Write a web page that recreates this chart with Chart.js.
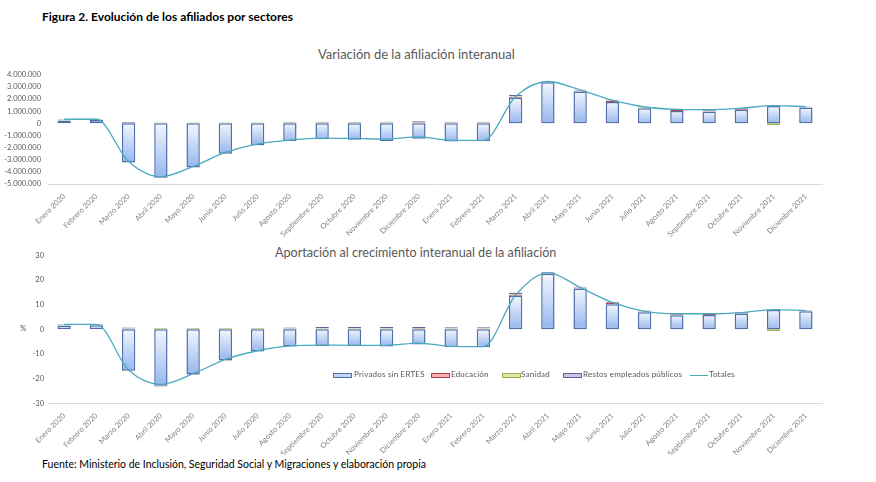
<!DOCTYPE html>
<html>
<head>
<meta charset="utf-8">
<script src="https://cdn.jsdelivr.net/npm/chart.js@4.4.1/dist/chart.umd.min.js"></script>
<style>
  body { margin:0; background:#fff; width:876px; height:482px; position:relative; overflow:hidden; font-family:Lato, sans-serif; }
  canvas { position:absolute; left:0; }
  .txt { position:absolute; white-space:nowrap; }
  .ctitle { color:#595959; font-size:13px; }
  .leg { position:absolute; top:369px; font-size:8px; color:#595959; white-space:nowrap; }
  .leg .box { position:absolute; top:4px; width:17px; height:3px; border:1px solid; }
  .leg .ln { position:absolute; top:5.5px; width:18px; height:1.3px; background:#4aabc0; }
</style>
</head>
<body>
<div class="txt" style="left:42px;top:9px;font-size:12px;font-weight:bold;color:#000">Figura 2. Evolución de los afiliados por sectores</div>
<div class="txt ctitle" style="left:318px;top:46px">Variación de la afiliación interanual</div>
<div class="txt ctitle" style="left:275px;top:245px;font-size:12.6px">Aportación al crecimiento interanual de la afiliación</div>
<div class="txt" style="left:20px;top:323px;font-size:8px;color:#595959">%</div>

<canvas id="topChart" width="876" height="200" style="top:40px"></canvas>
<canvas id="botChart" width="876" height="215" style="top:240px"></canvas>

<div class="leg" style="left:333px"><span class="box" style="left:0;border-color:#4f6fa8;background:#c2d5f6"></span><span style="position:absolute;left:21px;letter-spacing:0.2px">Privados sin ERTES</span></div>
<div class="leg" style="left:431px"><span class="box" style="left:0;border-color:#b5424a;background:#f4b0b0"></span><span style="position:absolute;left:20px;letter-spacing:0.2px">Educación</span></div>
<div class="leg" style="left:502px"><span class="box" style="left:0;border-color:#96b44c;background:#dbeaa8"></span><span style="position:absolute;left:19px;letter-spacing:0.2px">Sanidad</span></div>
<div class="leg" style="left:563px"><span class="box" style="left:0;border-color:#6d5f96;background:#cfc2ea"></span><span style="position:absolute;left:20px;letter-spacing:0.2px">Restos empleados públicos</span></div>
<div class="leg" style="left:690px"><span class="ln" style="left:0"></span><span style="position:absolute;left:19px;letter-spacing:0.2px">Totales</span></div>

<div class="txt" style="left:42px;top:458px;font-size:10.5px;color:#000">Fuente: Ministerio de Inclusión, Seguridad Social y Migraciones y elaboración propia</div>

<script>
const meses = ['Enero 2020','Febrero 2020','Marzo 2020','Abril 2020','Mayo 2020','Junio 2020','Julio 2020',
  'Agosto 2020','Septiembre 2020','Octubre 2020','Noviembre 2020','Diciembre 2020',
  'Enero 2021','Febrero 2021','Marzo 2021','Abril 2021','Mayo 2021','Junio 2021','Julio 2021',
  'Agosto 2021','Septiembre 2021','Octubre 2021','Noviembre 2021','Diciembre 2021'];

// variacion interanual (personas)
const privVar = [220000,260000,-3220000,-4450000,-3600000,-2500000,-1800000,-1450000,-1320000,-1360000,-1450000,-1270000,
  -1500000,-1470000,2100000,3380000,2620000,1750000,1240000,1020000,940000,1120000,1420000,1300000];
const eduVar = [30000,30000,20000,10000,10000,10000,10000,20000,30000,30000,30000,60000,
  30000,30000,80000,30000,80000,100000,40000,80000,60000,50000,20000,20000];
const sanVar = [40000,40000,30000,60000,60000,60000,60000,40000,30000,30000,30000,40000,
  30000,30000,50000,0,20000,30000,40000,50000,20000,20000,-160000,10000];
const restVar = [50000,50000,50000,-50000,-50000,-40000,-30000,60000,70000,70000,70000,60000,
  60000,60000,100000,60000,50000,60000,50000,50000,50000,60000,30000,40000];
const totVar = [330000,330000,-3150000,-4400000,-3550000,-2400000,-1700000,-1380000,-1220000,-1250000,-1300000,-1120000,
  -1400000,-1400000,2200000,3440000,2750000,1900000,1340000,1150000,1120000,1250000,1450000,1370000];

// aportacion al crecimiento (%)
const privAp = [1.5,1.6,-16.8,-22.9,-18.3,-12.5,-8.9,-7.0,-6.8,-6.8,-7.0,-6.2,
  -7.3,-7.3,13.6,22.5,16.5,10.2,6.9,5.7,5.8,6.4,7.8,7.3];
const eduAp = [0.15,0.15,0.1,0.05,0.05,0.05,0.05,0.1,0.2,0.2,0.2,0.3,
  0.2,0.2,0.4,0.2,0.4,0.5,0.2,0.4,0.4,0.2,0.1,0.1];
const sanAp = [0.2,0.2,0.2,0.35,0.35,0.35,0.35,0.2,0.2,0.2,0.2,0.2,
  0.2,0.2,0.2,0.0,0.1,0.1,0.2,0.2,0.1,0.1,-0.7,0.1];
const restAp = [0.2,0.2,0.4,-0.3,-0.25,-0.2,-0.2,0.4,0.5,0.5,0.5,0.4,
  0.4,0.4,0.6,0.4,0.3,0.4,0.3,0.3,0.2,0.3,0.2,0.2];
const totAp = [2.0,2.0,-16.5,-22.3,-18.0,-12.2,-8.7,-6.7,-6.4,-6.5,-6.5,-5.6,
  -6.9,-7.0,13.9,23.0,17.0,10.9,7.3,6.3,6.3,6.8,8.0,7.6];

const tickColor = '#595959';

function miles(v) {
  const s = String(Math.abs(v)).replace(/\B(?=(\d{3})+(?!\d))/g, '.');
  return (v < 0 ? '-' : '') + s;
}

// degradado del azul de los privados, claro arriba
function fillPriv(c) {
  const ch = c.chart, y = ch.scales.y;
  if (c.type !== 'data' || !y || c.raw === undefined) return '#c2d5f6';
  const a = y.getPixelForValue(0), b = y.getPixelForValue(c.raw);
  if (!isFinite(a) || !isFinite(b)) return '#c2d5f6';
  const g = ch.ctx.createLinearGradient(0, Math.min(a, b), 0, Math.max(a, b) + 0.5);
  g.addColorStop(0, '#f3f7fe');
  g.addColorStop(1, '#94b5ee');
  return g;
}

function barSet(label, data, bg, border, bw) {
  return {
    type: 'bar', label, data, backgroundColor: bg, borderColor: border, borderWidth: bw,
    borderSkipped: false, stack: 's', order: 2, barPercentage: 0.9, categoryPercentage: 0.46
  };
}

function makeChart(id, priv, edu, san, rest, tot, yMin, yMax, step, fmt, padTop, xHeight, tickPad) {
  return new Chart(document.getElementById(id), {
    data: {
      labels: meses,
      datasets: [
        barSet('Privados sin ERTES', priv, fillPriv, '#4f6fa8', 1.5),
        barSet('Educación', edu, '#f4b0b0', '#b5424a', 1.2),
        barSet('Sanidad', san, '#dbeaa8', '#96b44c', 1.2),
        barSet('Restos empleados públicos', rest, '#cfc2ea', '#6d5f96', 1.2),
        { type: 'line', label: 'Totales', data: tot, borderColor: '#4aabc0', borderWidth: 1.3,
          pointRadius: 0, cubicInterpolationMode: 'monotone', stack: 't', order: 0, fill: false }
      ]
    },
    options: {
      responsive: false,
      animation: false,
      layout: { padding: { top: padTop, right: 54, left: 0, bottom: 0 } },
      plugins: { legend: { display: false }, tooltip: { enabled: false }, title: { display: false } },
      scales: {
        x: {
          stacked: true,
          grid: { display: false, drawTicks: false },
          border: { display: true, color: '#d9d9d9', width: 1 },
          ticks: { autoSkip: false, minRotation: 45, maxRotation: 45, padding: 8,
                   font: { family: 'Lato', size: 7.5 }, color: '#7f7f7f' },
          afterFit(s) { s.height = xHeight; }
        },
        y: {
          stacked: true, min: yMin, max: yMax,
          grid: { display: false, drawTicks: false },
          border: { display: false },
          ticks: { stepSize: step, autoSkip: false, padding: tickPad, callback: fmt,
                   font: { family: 'Lato', size: 7.5 }, color: tickColor },
          afterFit(s) { s.width = 48; }
        }
      }
    }
  });
}

makeChart('topChart', privVar, eduVar, sanVar, restVar, totVar,
  -5000000, 4000000, 1000000, v => miles(v), 34.7, 56, 7);
makeChart('botChart', privAp, eduAp, sanAp, restAp, totAp,
  -30, 30, 10, v => String(v), 15.3, 51.7, 4);
</script>
</body>
</html>
